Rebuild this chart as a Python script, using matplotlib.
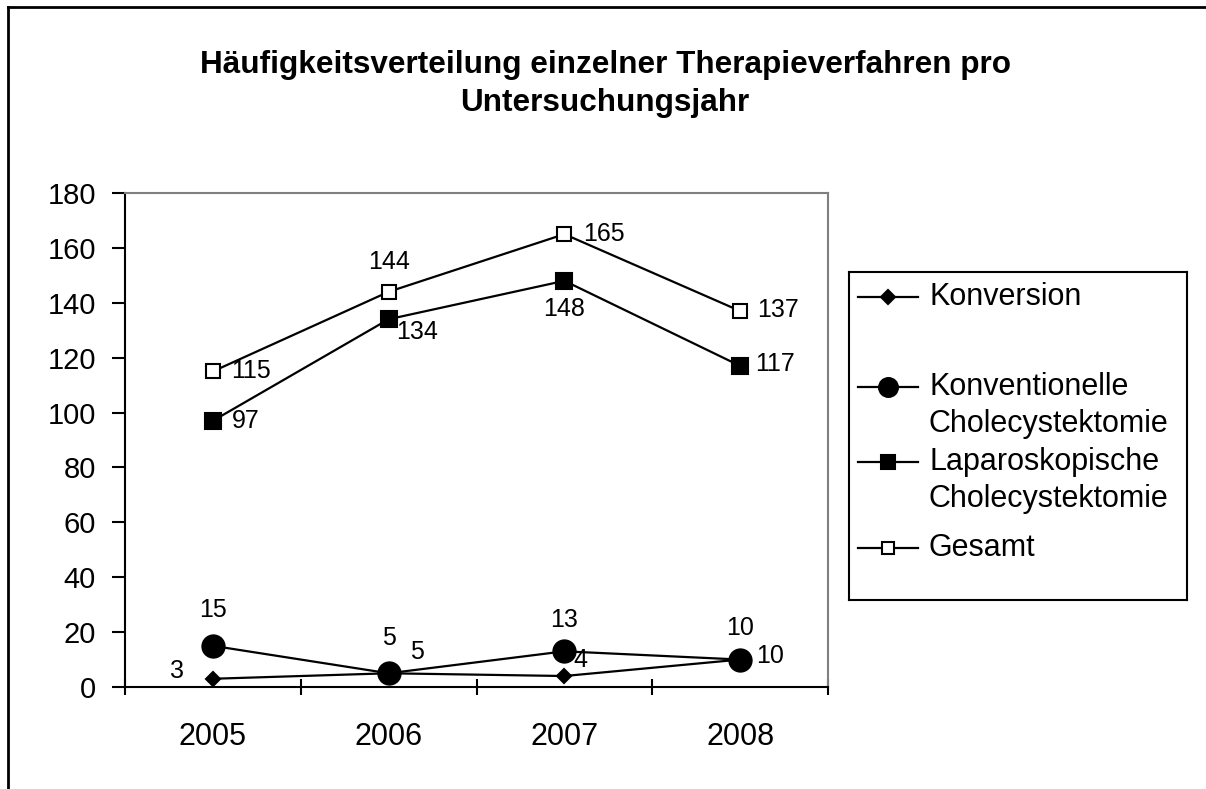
import matplotlib
matplotlib.use("Agg")
import matplotlib.pyplot as plt
import numpy as np
from matplotlib.lines import Line2D

plt.rcParams['font.family'] = ['Liberation Sans', 'DejaVu Sans']

# data
years = ['2005', '2006', '2007', '2008']
konversion = [3, 5, 4, 10]
konventionell = [15, 5, 13, 10]
laparoskopisch = [97, 134, 148, 117]
gesamt = [115, 144, 165, 137]
labels = ['Konversion', 'Konventionelle\nCholecystektomie',
          'Laparoskopische\nCholecystektomie', 'Gesamt']
title = 'Häufigkeitsverteilung einzelner Therapieverfahren pro\nUntersuchungsjahr'

W, H = 1206, 789
fig = plt.figure(figsize=(W / 100, H / 100), dpi=100)

# frame of the chart object (only left + top edges visible)
fig.add_artist(Line2D([8 / W, 8 / W], [0, 1 - 7 / H], transform=fig.transFigure, color='black', lw=2))
fig.add_artist(Line2D([8 / W, 1], [1 - 7 / H, 1 - 7 / H], transform=fig.transFigure, color='black', lw=2))

fig.text(605 / W, 1 - 84 / H, title, ha='center', va='center', fontsize=22.7,
         fontweight='bold', linespacing=1.36)

ax = fig.add_axes([125 / W, 1 - 687 / H, (828 - 125) / W, (687 - 193) / H])
x = np.arange(len(years))

# style per series: marker, size, facecolor
styles = [
    dict(marker='D', ms=7, mfc='black'),
    dict(marker='o', ms=16, mfc='black'),
    dict(marker='s', ms=12, mfc='black'),
    dict(marker='s', ms=10, mfc='white'),
]
series = [konversion, konventionell, laparoskopisch, gesamt]

for vals, st in zip(series, styles):
    ax.plot(x, vals, color='black', lw=1.6, marker=st['marker'], ms=st['ms'],
            mfc=st['mfc'], mec='black', mew=1.5, clip_on=False, zorder=3)

# label placement (pixel offsets, horizontal alignment)
offsets = [
    [(-36, 8, 'center'), (28, 21, 'center'), (16, 16, 'center'), (30, 4, 'center')],
    [(0, 36, 'center'), (0, 35, 'center'), (0, 31, 'center'), (0, 32, 'center')],
    [(19, 0, 'left'), (8, -13, 'left'), (0, -28, 'center'), (15, 2, 'left')],
    [(18, 0, 'left'), (0, 30, 'center'), (19, 0, 'left'), (17, 1, 'left')],
]
for vals, offs in zip(series, offsets):
    for xi, v, (dx, dy, ha) in zip(x, vals, offs):
        ax.annotate(str(v), (xi, v), xytext=(dx, dy), textcoords='offset pixels',
                    ha=ha, va='center', fontsize=18, zorder=4)

ax.set_xlim(-0.5, len(years) - 0.5)
ax.set_ylim(0, 180)
ax.set_yticks(np.arange(0, 181, 20))
ax.set_xticks(x)
ax.set_xticklabels(years)
ax.set_xticks(np.arange(-0.5, len(years)), minor=True)
ax.tick_params(axis='y', direction='out', length=9.4, width=1.5, pad=11.5, labelsize=21)
ax.tick_params(axis='x', which='major', length=0, pad=25, labelsize=22)
ax.tick_params(axis='x', which='minor', direction='inout', length=11, width=1.5)

for side in ['top', 'right']:
    ax.spines[side].set_color('#808080')
    ax.spines[side].set_linewidth(1.5)
for side in ['left', 'bottom']:
    ax.spines[side].set_color('black')
    ax.spines[side].set_linewidth(1.5)

# legend box drawn in its own axes, pixel coordinates
lx0, lx1, ly0, ly1 = 849, 1187, 272, 600
lax = fig.add_axes([lx0 / W, 1 - ly1 / H, (lx1 - lx0) / W, (ly1 - ly0) / H])
lax.set_xlim(lx0, lx1)
lax.set_ylim(ly1, ly0)
lax.set_xticks([])
lax.set_yticks([])
for sp in lax.spines.values():
    sp.set_color('black')
    sp.set_linewidth(1.5)

entry_y = [297, 387, 462, 548]
for lab, st, ey in zip(labels, styles, entry_y):
    lax.plot([858, 918], [ey, ey], color='black', lw=1.6)
    lax.plot([888], [ey], marker=st['marker'], ms=st['ms'] * 0.85 if st['marker'] != 'D' else st['ms'],
             mfc=st['mfc'], mec='black', mew=1.5, color='black')
    for i, line in enumerate(lab.split('\n')):
        lax.text(929, ey + i * 37, line, ha='left', va='center', fontsize=22)

fig.savefig('out.png', dpi=100)
